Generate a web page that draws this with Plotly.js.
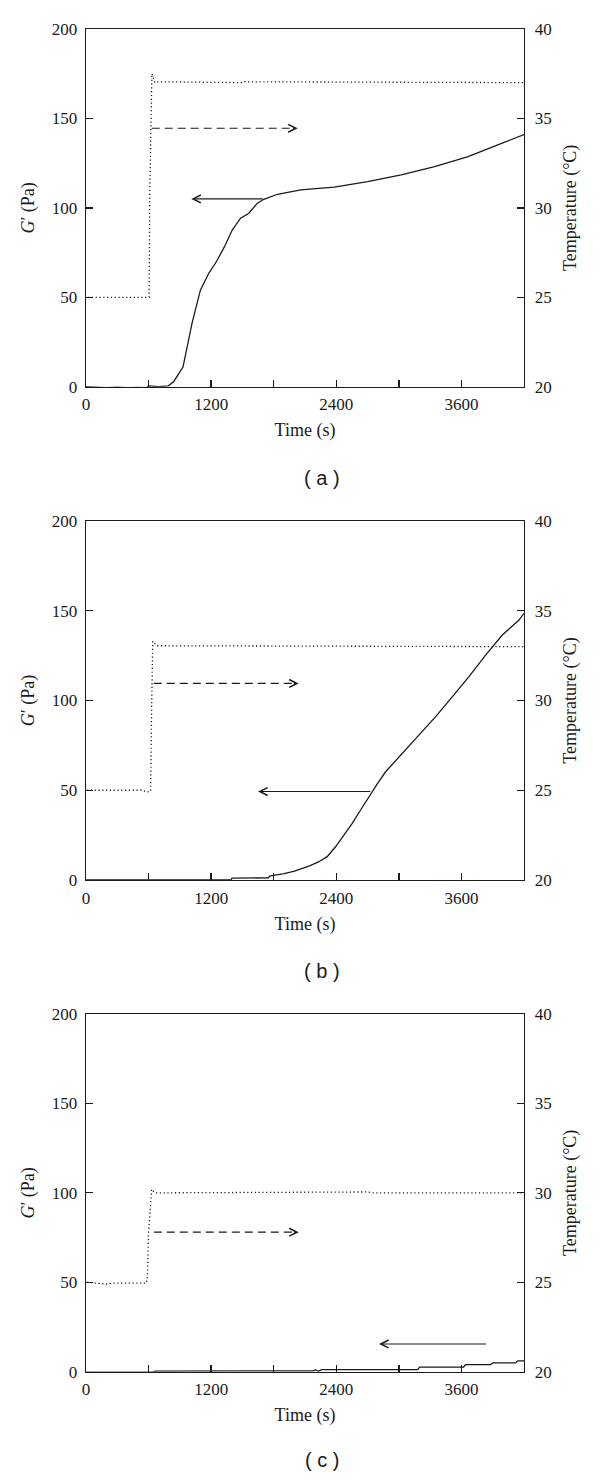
<!DOCTYPE html>
<html>
<head>
<meta charset="utf-8">
<script src="https://cdn.plot.ly/plotly-3.0.1.min.js"></script>
<style>
  html, body { margin: 0; padding: 0; background: #fff; }
  #chart { width: 600px; height: 1480px; }
</style>
</head>
<body>
<div id="chart"></div>
<script>
// (a) temperature (°C) and storage modulus G' (Pa) against time (s)
const tempTimeA = [20, 605, 612, 625, 632, 660, 700, 1500, 1520, 4200];
const tempA = [25, 25, 31, 36, 37.5, 37.0, 37.05, 37.0, 37.05, 37.0];
const gTimeA = [0, 100, 200, 300, 400, 500, 580, 600, 700, 790, 840, 930, 1017, 1097, 1177, 1251, 1328, 1402, 1482, 1562, 1643, 1706, 1835, 2060, 2380, 2701, 3022, 3343, 3664, 3985, 4200];
const gA = [0, -0.3, -0.5, -0.2, -0.6, -0.4, -0.5, 0.5, 0, 0.5, 2.8, 11, 35.5, 54, 63.4, 70, 78.3, 87.6, 94.2, 97, 102.6, 104.8, 107.6, 110, 111.6, 114.7, 118.4, 123, 128.6, 136, 141];

// (b)
const tempTimeB = [10, 540, 580, 620, 628, 640, 680, 4200];
const tempB = [25, 25, 24.9, 24.95, 29, 33.3, 33.05, 33.0];
const gTimeB = [0, 300, 310, 1390, 1400, 1750, 1760, 1900, 2000, 2073, 2150, 2233, 2313, 2393, 2473, 2553, 2633, 2713, 2793, 2873, 3033, 3193, 3353, 3512, 3672, 3832, 3992, 4152, 4200];
const gB = [0, 0, -0.3, 0, 1, 1.2, 2.2, 3.5, 5, 6.5, 8, 10.2, 13, 18.5, 25, 31.6, 39, 46.4, 53.5, 60.3, 70.6, 80.8, 91, 102, 113.3, 125.3, 136.5, 144.8, 148.6];

// (c)
const tempTimeC = [10, 200, 250, 580, 590, 600, 615, 630, 660, 2700, 2750, 4200];
const tempC = [25, 24.9, 24.95, 24.95, 25.5, 27.8, 29, 30.2, 30.0, 30.05, 30.0, 30.0];
const gTimeC = [0, 640, 660, 2150, 2180, 2200, 2230, 2260, 3180, 3200, 3620, 3640, 3880, 3900, 4120, 4140, 4200];
const gC = [-0.3, -0.3, 0.3, 0.3, 0.5, 1.0, 0.3, 1.2, 1.2, 2.6, 2.6, 3.9, 3.9, 4.9, 4.9, 6.1, 6.1];

const panelLabels = ['( a )', '( b )', '( c )'];

const ink = '#1a1a1a';
const serif = 'Liberation Serif, Times New Roman, serif';
const H = 1480;
const py = (px) => 1 - px / H;

const panels = [
  { x: 'x', y: 'y', yT: 'y2', gt: gTimeA, g: gA, tt: tempTimeA, t: tempA, box: [386.7, 29], labelY: 478,
    dashed: { from: 630, to: 2030, y: 144.5 }, solid: { tail: 1710, head: 1010, y: 105 } },
  { x: 'x2', y: 'y3', yT: 'y4', gt: gTimeB, g: gB, tt: tempTimeB, t: tempB, box: [880, 521], labelY: 971,
    dashed: { from: 650, to: 2040, y: 109.5 }, solid: { tail: 2740, head: 1650, y: 49.3 } },
  { x: 'x3', y: 'y5', yT: 'y6', gt: gTimeC, g: gC, tt: tempTimeC, t: tempC, box: [1371.7, 1014], labelY: 1460,
    dashed: { from: 650, to: 2040, y: 78 }, solid: { tail: 3850, head: 2810, y: 15.5 } },
];

const axisKey = (id) => id.replace(/^([xy])(\d*)$/, (m, a, n) => a + 'axis' + n);

const traces = [];
const shapes = [];
const annotations = [];
const layout = {
  width: 600,
  height: H,
  margin: { l: 86, r: 76, t: 0, b: 0 },
  paper_bgcolor: '#fff',
  plot_bgcolor: '#fff',
  showlegend: false,
  font: { family: serif, color: ink, size: 18 },
};

panels.forEach((p, i) => {
  traces.push({
    type: 'scatter', mode: 'lines', x: p.tt, y: p.t, xaxis: p.x, yaxis: p.yT,
    line: { color: ink, width: 1.3, dash: '1.2px,2.6px' }, hoverinfo: 'skip',
  });
  traces.push({
    type: 'scatter', mode: 'lines', x: p.gt, y: p.g, xaxis: p.x, yaxis: p.y,
    line: { color: ink, width: 1.3 }, hoverinfo: 'skip',
  });

  layout[axisKey(p.x)] = {
    anchor: p.y, domain: [0, 1], range: [0, 4200],
    showline: true, mirror: true, linecolor: ink, linewidth: 1.3,
    ticks: 'inside', ticklen: 7, tickwidth: 1.3, tickcolor: ink,
    tick0: 0, dtick: 1200,
    minor: { tick0: 0, dtick: 600, ticks: 'inside', ticklen: 7, tickwidth: 1.3, tickcolor: ink },
    showgrid: false, zeroline: false,
    tickfont: { family: serif, size: 17 }, ticklabelstandoff: 2,
    title: { text: 'Time (s)', font: { family: serif, size: 18 }, standoff: 10 },
  };
  layout[axisKey(p.y)] = {
    anchor: p.x, domain: [py(p.box[0]), py(p.box[1])], range: [0, 200],
    showline: true, linecolor: ink, linewidth: 1.3,
    ticks: 'inside', ticklen: 7, tickwidth: 1.3, tickcolor: ink,
    tick0: 0, dtick: 50, showgrid: false, zeroline: false,
    tickfont: { family: serif, size: 17 }, ticklabelstandoff: 4,
    title: { text: '<i>G</i>′ (Pa)', font: { family: serif, size: 18 }, standoff: 12 },
  };
  layout[axisKey(p.yT)] = {
    anchor: p.x, overlaying: p.y, side: 'right', range: [20, 40],
    showline: true, linecolor: ink, linewidth: 1.3,
    ticks: 'inside', ticklen: 7, tickwidth: 1.3, tickcolor: ink,
    tick0: 20, dtick: 5, showgrid: false, zeroline: false,
    tickfont: { family: serif, size: 17 }, ticklabelstandoff: 6,
    title: { text: 'Temperature (°C)', font: { family: serif, size: 18 }, standoff: 12 },
  };

  // dashed arrow pointing right (towards the temperature axis)
  shapes.push({
    type: 'line', xref: p.x, yref: p.y,
    x0: p.dashed.from, x1: p.dashed.to - 20, y0: p.dashed.y, y1: p.dashed.y,
    line: { color: ink, width: 1.2, dash: '8px,5px' },
  });
  annotations.push({
    xref: p.x, yref: p.y, axref: p.x, ayref: p.y,
    x: p.dashed.to, y: p.dashed.y, ax: p.dashed.to - 60, ay: p.dashed.y,
    text: '', showarrow: true, arrowhead: 5, arrowsize: 1.4, arrowwidth: 1.1, arrowcolor: ink,
  });
  // solid arrow pointing left (towards the G' axis)
  annotations.push({
    xref: p.x, yref: p.y, axref: p.x, ayref: p.y,
    x: p.solid.head, y: p.solid.y, ax: p.solid.tail, ay: p.solid.y,
    text: '', showarrow: true, arrowhead: 5, arrowsize: 1.4, arrowwidth: 1.1, arrowcolor: ink,
  });
  // panel label
  annotations.push({
    xref: 'paper', yref: 'paper', x: (322 - 86) / 438, y: py(p.labelY),
    xanchor: 'center', yanchor: 'middle', showarrow: false,
    text: panelLabels[i],
    font: { family: 'Liberation Sans, Arial, sans-serif', size: 20, color: ink },
  });
});

layout.shapes = shapes;
layout.annotations = annotations;

Plotly.newPlot('chart', traces, layout, { displayModeBar: false, staticPlot: true });
</script>
</body>
</html>
